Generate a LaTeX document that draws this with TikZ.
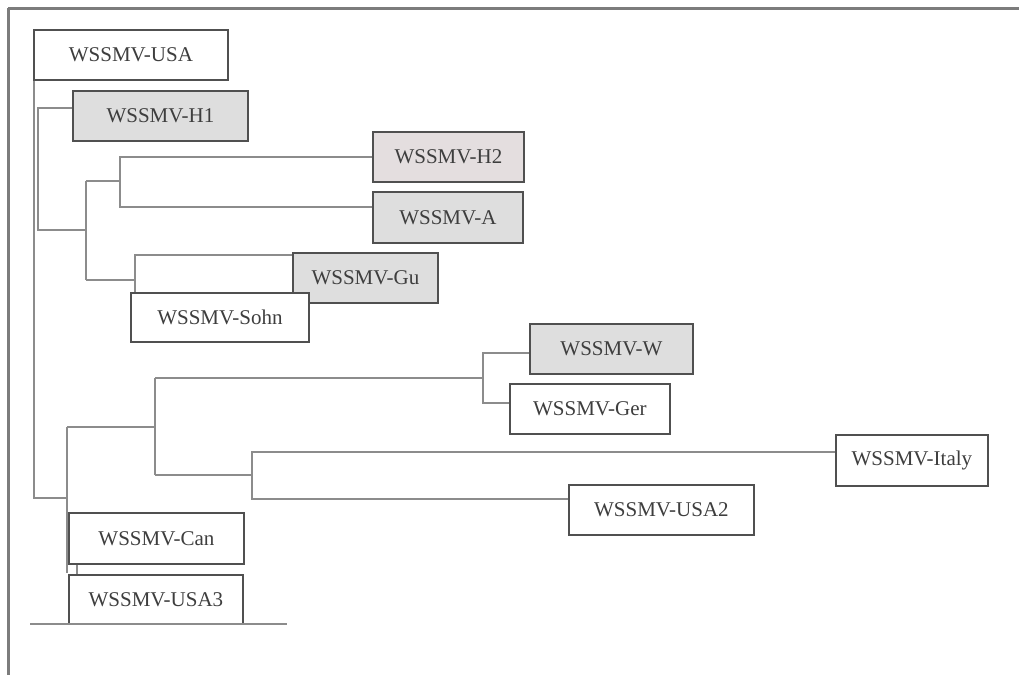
\documentclass[tikz,border=0pt]{standalone}
\usepackage{fontspec}
\setmainfont{Liberation Serif}
\definecolor{framec}{HTML}{7C7C7C}
\definecolor{boxc}{HTML}{505050}
\definecolor{linkc}{HTML}{8C8C8C}
\definecolor{txtc}{HTML}{3E3E3E}
\definecolor{shade}{HTML}{DEDEDE}
\definecolor{shadep}{HTML}{E4DEDF}
\tikzset{
  leaf/.style={draw=boxc, line width=1.8pt, fill=white, anchor=north west,
    inner sep=0pt, text=txtc, font=\fontsize{21}{25}\selectfont},
  shaded/.style={leaf, fill=shade},
  link/.style={draw=linkc, line width=1.4pt},
  framerule/.style={draw=framec, line width=3pt},
}
\begin{document}
\begin{tikzpicture}[x=1pt,y=-1pt]
\useasboundingbox (0,0) rectangle (1019,675);
% outer frame (top and left rules)
\draw[framerule] (8,8) -- (1019,8);
\draw[framerule] (8,8) -- (8,675);

% leaves
\node[leaf,   minimum width=194pt, minimum height=50pt] (usa)   at (33,29)  {WSSMV-USA};
\node[shaded, minimum width=175pt, minimum height=50pt] (h1)    at (72,90)  {WSSMV-H1};
\node[leaf, fill=shadep, minimum width=151pt, minimum height=50pt] (h2) at (372,131) {WSSMV-H2};
\node[shaded, minimum width=150pt, minimum height=51pt] (a)     at (372,191) {WSSMV-A};
\node[shaded, minimum width=145pt, minimum height=50pt] (gu)    at (292,252) {WSSMV-Gu};
\node[leaf,   minimum width=178pt, minimum height=49pt] (sohn)  at (130,292) {WSSMV-Sohn};
\node[shaded, minimum width=163pt, minimum height=50pt] (w)     at (529,323) {WSSMV-W};
\node[leaf,   minimum width=160pt, minimum height=50pt] (ger)   at (509,383) {WSSMV-Ger};
\node[leaf,   minimum width=152pt, minimum height=51pt] (italy) at (835,434) {WSSMV-Italy};
\node[leaf,   minimum width=185pt, minimum height=50pt] (usa2)  at (568,484) {WSSMV-USA2};
\node[leaf,   minimum width=175pt, minimum height=51pt] (can)   at (68,512) {WSSMV-Can};
\node[leaf,   minimum width=174pt, minimum height=49pt] (usa3)  at (68,574) {WSSMV-USA3};

% branch points
\coordinate (root) at (34,498);
\coordinate (kH1)  at (38,108);
\coordinate (kUp)  at (38,230);
\coordinate (kHA)  at (86,181);
\coordinate (kGS)  at (86,280);
\coordinate (kH2)  at (120,157);
\coordinate (kA)   at (120,207);
\coordinate (kGu)  at (135,255);
\coordinate (kLow) at (67,498);
\coordinate (kMid) at (67,427);
\coordinate (kWG)  at (155,378);
\coordinate (kIU)  at (155,475);
\coordinate (kW)   at (483,353);
\coordinate (kGer) at (483,403);
\coordinate (kIt)  at (252,452);
\coordinate (kU2)  at (252,499);
\coordinate (kEnd) at (67,573);

% root stem and first split
\draw[link] ([xshift=1pt]usa.south west) -- (root) -- (kLow);
\draw[link] (h1.west |- kH1) -- (kH1) -- (kUp) -- (kUp -| kHA);
% upper clade
\draw[link] (kHA) -- (kGS);
\draw[link] (kHA) -- (kHA -| kH2);
\draw[link] (h2.west |- kH2) -- (kH2) -- (kA) -- (a.west |- kA);
\draw[link] (kGS) -- (kGS -| kGu);
\draw[link] (gu.west |- kGu) -- (kGu) -- (sohn.north west -| kGu);
% lower clade
\draw[link] (kMid) -- (kEnd);
\draw[link] (kMid) -- (kMid -| kWG);
\draw[link] (kWG) -- (kIU);
\draw[link] (kWG) -- (kWG -| kW);
\draw[link] (w.west |- kW) -- (kW) -- (kGer) -- (ger.west |- kGer);
\draw[link] (kIU) -- (kIU -| kIt);
\draw[link] (italy.west |- kIt) -- (kIt) -- (kU2) -- (usa2.west |- kU2);
\draw[link] ([xshift=9pt]can.south west) -- ([xshift=9pt]usa3.north west);
% base rule
\coordinate (baseL) at (30,624);
\coordinate (baseR) at (287,624);
\draw[link] (baseL) -- (baseR);
\end{tikzpicture}
\end{document}
